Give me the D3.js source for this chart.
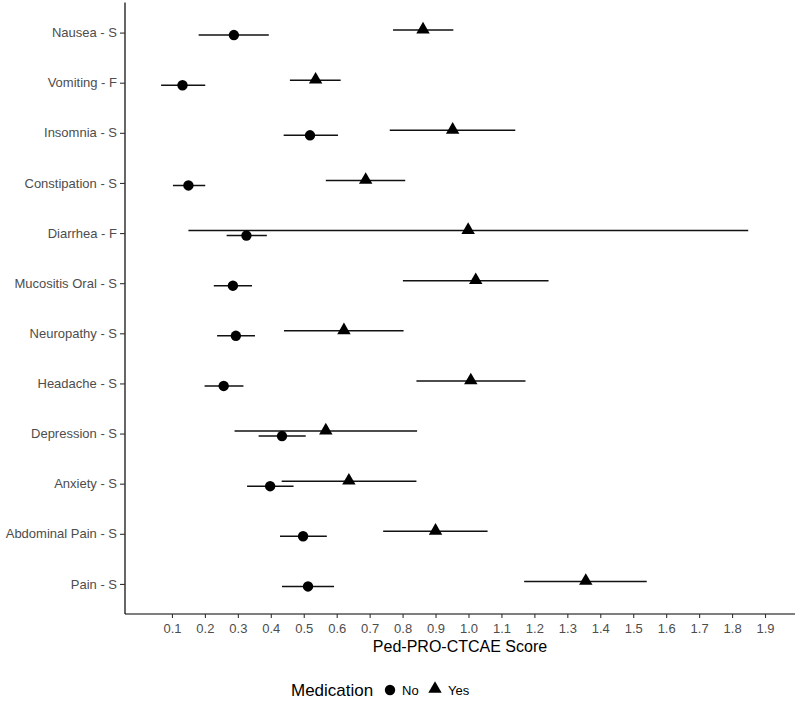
<!DOCTYPE html>
<html>
<head>
<meta charset="utf-8">
<script src="https://cdn.jsdelivr.net/npm/d3@7"></script>
<style>
  html, body { margin: 0; padding: 0; background: #fff; }
  svg { display: block; font-family: Arial, "Liberation Sans", sans-serif; }
</style>
</head>
<body>
<svg id="chart" width="800" height="705"></svg>
<script>
const categories = ["Nausea - S","Vomiting - F","Insomnia - S","Constipation - S","Diarrhea - F",
  "Mucositis Oral - S","Neuropathy - S","Headache - S","Depression - S","Anxiety - S",
  "Abdominal Pain - S","Pain - S"];
const groups = ["No","Yes"];
// Medication = No
const noMean  = [0.288,0.132,0.519,0.150,0.326,0.285,0.294,0.257,0.434,0.398,0.498,0.513];
const noLow   = [0.181,0.067,0.439,0.103,0.266,0.227,0.237,0.199,0.363,0.328,0.428,0.434];
const noHigh  = [0.394,0.201,0.604,0.201,0.388,0.343,0.352,0.317,0.506,0.469,0.570,0.592];
// Medication = Yes
const yesMean = [0.862,0.536,0.952,0.688,0.999,1.022,0.622,1.007,0.567,0.637,0.900,1.356];
const yesLow  = [0.771,0.458,0.761,0.567,0.150,0.801,0.440,0.842,0.290,0.433,0.741,1.169];
const yesHigh = [0.954,0.612,1.142,0.808,1.849,1.243,0.803,1.173,0.844,0.842,1.058,1.541];
const xTicks = [0.1,0.2,0.3,0.4,0.5,0.6,0.7,0.8,0.9,1.0,1.1,1.2,1.3,1.4,1.5,1.6,1.7,1.8,1.9];

const rows = [];
categories.forEach((c,i) => {
  rows.push({cat:c, grp:"No",  mean:noMean[i],  lo:noLow[i],  hi:noHigh[i]});
  rows.push({cat:c, grp:"Yes", mean:yesMean[i], lo:yesLow[i], hi:yesHigh[i]});
});

const svg = d3.select("#chart");
const panel = {left:125, right:795, top:2.5, bottom:614};

const x = d3.scaleLinear().domain([-0.0425, 1.991]).range([panel.left, panel.right]);
const y = d3.scalePoint().domain(categories).range([panel.top, panel.bottom]).padding(0.6);
const dodge = d3.scalePoint().domain(groups).range([2.5, -2.5]);

// error bars
svg.append("g").selectAll("line").data(rows).join("line")
  .attr("x1", d => x(d.lo)).attr("x2", d => x(d.hi))
  .attr("y1", d => y(d.cat) + dodge(d.grp)).attr("y2", d => y(d.cat) + dodge(d.grp))
  .attr("stroke", "#111").attr("stroke-width", 1.5);

// points
const circ = d3.symbol().type(d3.symbolCircle).size(85);
const tri = d3.symbol().type(d3.symbolTriangle).size(78);
svg.append("g").selectAll("path").data(rows).join("path")
  .attr("d", d => d.grp === "No" ? circ() : tri())
  .attr("transform", d => `translate(${x(d.mean)},${y(d.cat) + dodge(d.grp) + (d.grp==="Yes" ? -0.5 : 0)})`)
  .attr("fill", "#000");

// axes
const xAxis = svg.append("g").attr("transform", `translate(0,${panel.bottom})`)
  .call(d3.axisBottom(x).tickValues(xTicks).tickFormat(d3.format(".1f")).tickSize(4).tickSizeOuter(0));
const yAxis = svg.append("g").attr("transform", `translate(${panel.left},0)`)
  .call(d3.axisLeft(y).tickSize(5).tickSizeOuter(0));

[xAxis, yAxis].forEach(a => {
  a.select(".domain").attr("stroke", "#000").attr("stroke-width", 1.2);
  a.selectAll(".tick line").attr("stroke", "#333").attr("stroke-width", 1.1);
  a.selectAll(".tick text").attr("fill", "#4d4d4d").attr("font-size", 13)
    .attr("font-family", "Arial, 'Liberation Sans', sans-serif");
});
xAxis.select(".domain").attr("d", `M${panel.left},0H${panel.right}`);
yAxis.select(".domain").attr("d", `M0,${panel.top}V${panel.bottom}`);
xAxis.selectAll(".tick text").attr("dy", "0.71em").attr("y", 10);
yAxis.selectAll(".tick text").attr("x", -8);

// x title
svg.append("text").attr("x", (panel.left + panel.right)/2).attr("y", 652)
  .attr("text-anchor", "middle").attr("font-size", 16).attr("fill", "#000")
  .text("Ped-PRO-CTCAE Score");

// legend
const lg = svg.append("g").attr("transform", "translate(0,690)");
lg.append("text").attr("x", 291).attr("y", 6).attr("font-size", 17).attr("fill", "#000").text("Medication");
lg.append("path").attr("d", circ()).attr("transform", "translate(390,0)").attr("fill", "#000");
lg.append("text").attr("x", 402).attr("y", 5).attr("font-size", 13).attr("fill", "#000").text("No");
lg.append("path").attr("d", tri()).attr("transform", "translate(435,-1)").attr("fill", "#000");
lg.append("text").attr("x", 448).attr("y", 5).attr("font-size", 13).attr("fill", "#000").text("Yes");
</script>
</body>
</html>
